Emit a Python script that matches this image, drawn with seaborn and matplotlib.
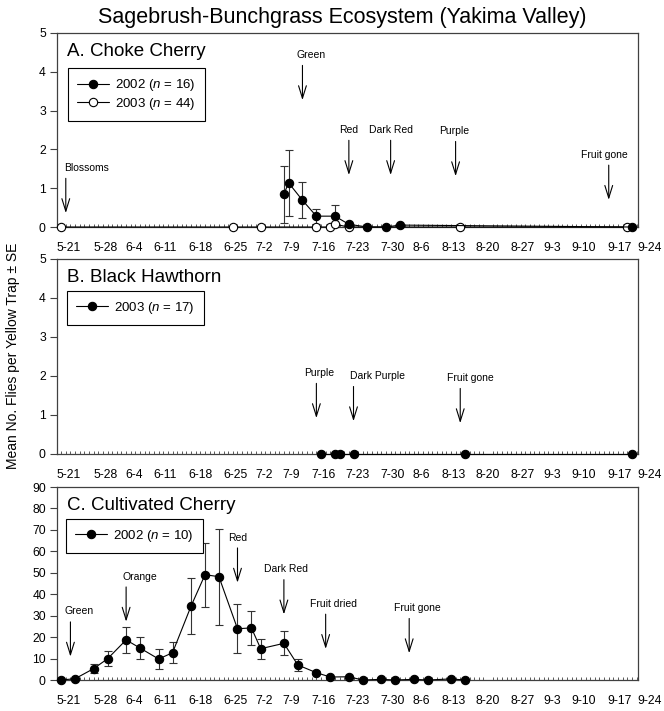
import matplotlib
matplotlib.use('Agg')
import numpy as np
import pandas as pd
import seaborn as sns
from matplotlib import pyplot as plt
from matplotlib.lines import Line2D
from matplotlib.ticker import MultipleLocator

# Dates are month-day strings (season 2002/2003), converted to days after 5-21
SEASON_START = pd.Timestamp('2002-05-21')

# A. Choke cherry
choke_2002_dates = ['7-7', '7-8', '7-11', '7-14', '7-18', '7-21', '7-25', '7-29', '8-1', '9-20']
choke_2002_mean = [0.84, 1.14, 0.69, 0.28, 0.28, 0.07, 0.0, 0.0, 0.05, 0.0]
choke_2002_se = [0.74, 0.85, 0.47, 0.19, 0.28, 0.03, 0.0, 0.0, 0.0, 0.0]
choke_2003_dates = ['5-20', '6-26', '7-2', '7-14', '7-17', '7-18', '7-21', '8-14', '9-19']
choke_2003_mean = [0.0, 0.0, 0.0, 0.0, 0.0, 0.07, 0.0, 0.0, 0.0]

# B. Black hawthorn
hawthorn_2003_dates = ['7-15', '7-18', '7-19', '7-22', '8-15', '9-20']
hawthorn_2003_mean = [0.0, 0.0, 0.0, 0.0, 0.0, 0.0]

# C. Cultivated cherry
cherry_2002_dates = ['5-20', '5-23', '5-27', '5-30', '6-3', '6-6', '6-10', '6-13', '6-17',
                     '6-20', '6-23', '6-27', '6-30', '7-2', '7-7', '7-10', '7-14', '7-17',
                     '7-21', '7-24', '7-28', '7-31', '8-4', '8-7', '8-12', '8-15']
cherry_2002_mean = [0.0, 0.6, 5.3, 9.9, 18.7, 14.9, 9.8, 12.7, 34.5, 49.1, 48.2, 23.9, 24.3,
                    14.6, 17.1, 7.0, 3.4, 1.4, 1.5, 0.0, 0.3, 0.0, 0.3, 0.0, 0.5, 0.0]
cherry_2002_se = [0.0, 0.3, 2.1, 3.4, 6.2, 5.3, 4.6, 4.9, 13.0, 15.0, 22.4, 11.4, 7.8,
                  4.7, 5.6, 2.9, 0.8, 0.5, 0.5, 0.0, 0.2, 0.0, 0.2, 0.0, 0.3, 0.0]

# Phenology stages (label, date, arrow tip value)
choke_stages = ['Blossoms', 'Green', 'Red', 'Dark Red', 'Purple', 'Fruit gone']
choke_stage_dates = ['5-21', '7-11', '7-21', '7-30', '8-13', '9-15']
choke_stage_tips = [0.36, 3.27, 1.34, 1.34, 1.31, 0.70]
hawthorn_stages = ['Purple', 'Dark Purple', 'Fruit gone']
hawthorn_stage_dates = ['7-14', '7-22', '8-14']
hawthorn_stage_tips = [0.92, 0.84, 0.79]
cherry_stages = ['Green', 'Orange', 'Red', 'Dark Red', 'Fruit dried', 'Fruit gone']
cherry_stage_dates = ['5-22', '6-3', '6-27', '7-7', '7-16', '8-3']
cherry_stage_tips = [10.9, 27.2, 45.4, 30.6, 14.5, 12.5]

week_labels = ['5-21', '5-28', '6-4', '6-11', '6-18', '6-25', '7-2', '7-9', '7-16', '7-23',
               '7-30', '8-6', '8-13', '8-20', '8-27', '9-3', '9-10', '9-17', '9-24']
# the original week labels were placed by hand, slightly off the weekly grid
week_label_nudge = [0.7, 1.6, 0.7, 0.4, 1.1, 1.5, 0.7, -0.5, -0.5, -0.2,
                    0.4, -0.5, -0.5, 0.0, 0.5, -0.2, -0.5, 0.4, -0.2]


def to_day(dates):
    return np.array([(pd.Timestamp('2002-' + d) - SEASON_START).days for d in dates])


sns.set_style('ticks')
plt.rcParams['font.family'] = ['Liberation Sans', 'DejaVu Sans']
plt.rcParams['mathtext.fontset'] = 'custom'
plt.rcParams['mathtext.rm'] = 'Liberation Sans'
plt.rcParams['mathtext.it'] = 'Liberation Sans:italic'
plt.rcParams['text.color'] = 'black'
plt.rcParams['xtick.color'] = 'black'
plt.rcParams['ytick.color'] = 'black'

fig = plt.figure(figsize=(6.64, 7.11), dpi=100)
ax_a = fig.add_axes([0.0858, 0.6807, 0.875, 0.2729])
ax_b = fig.add_axes([0.0858, 0.3615, 0.875, 0.2743])
ax_c = fig.add_axes([0.0858, 0.0436, 0.875, 0.2714])

AXIS_COLOR = '#404040'
XLIM = (-1.9, 123.3)
week_pos = 7 * np.arange(len(week_labels)) + np.array(week_label_nudge)


def plot_series(ax, dates, mean, se=None, filled=True):
    df = pd.DataFrame({'day': to_day(dates), 'mean': mean})
    if se is not None:
        se = np.array(se)
        keep = se > 0
        ax.errorbar(df['day'][keep], df['mean'][keep], yerr=se[keep], fmt='none',
                    ecolor='#333333', elinewidth=0.8, capsize=3, capthick=0.8, zorder=2)
    sns.lineplot(data=df, x='day', y='mean', ax=ax, color='black', lw=0.8,
                 marker='o', markersize=6, markeredgecolor='black', markeredgewidth=0.8,
                 markerfacecolor='black' if filled else 'white', clip_on=False, zorder=3)


def style_axes(ax, ymax, ystep, title):
    ax.set_xlim(*XLIM)
    ax.set_ylim(0, ymax)
    ax.set_yticks(np.arange(0, ymax + ystep / 2, ystep))
    inside = week_pos <= XLIM[1]
    ax.set_xticks(week_pos[inside])
    ax.set_xticklabels(np.array(week_labels)[inside])
    ax.xaxis.set_minor_locator(MultipleLocator(1))
    ax.set_xlabel('')
    ax.set_ylabel('')
    for sp in ax.spines.values():
        sp.set_visible(True)
        sp.set_color(AXIS_COLOR)
        sp.set_linewidth(0.9)
    ax.tick_params(axis='y', direction='out', length=5, width=0.8, color=AXIS_COLOR,
                   labelsize=8.7, labelcolor='black', pad=3)
    ax.tick_params(axis='x', which='major', length=0, labelsize=8.7, labelcolor='black',
                   pad=10.5)
    ax.tick_params(axis='x', which='minor', direction='in', length=2.2, width=0.6,
                   color=AXIS_COLOR)
    # last label sits just past the right edge of the axis
    for pos, lab in zip(week_pos[~inside], np.array(week_labels)[~inside]):
        ax.annotate(lab, xy=(pos, 0), xycoords=('data', 'axes fraction'),
                    xytext=(0, -10.5), textcoords='offset points', ha='center', va='top',
                    fontsize=8.7, annotation_clip=False)
    ax.annotate(title, xy=(0, 1), xycoords='axes fraction', xytext=(7, -13),
                textcoords='offset points', ha='left', va='center', fontsize=13.5)


def draw_stages(ax, stages, dates, tips, text_dx):
    for label, day, tip, dx in zip(stages, to_day(dates), tips, text_dx):
        ax.annotate('', xy=(day, tip), xytext=(0, 25), textcoords='offset points',
                    arrowprops=dict(arrowstyle='->,head_length=0.9,head_width=0.28',
                                    color='black', lw=0.8, shrinkA=0, shrinkB=0,
                                    mutation_scale=10))
        ax.annotate(label, xy=(day, tip), xytext=(dx, 32.5), textcoords='offset points',
                    ha='center', va='center', fontsize=7.5)


def add_legend(ax, labels, fills, anchor):
    handles = [Line2D([], [], color='black', lw=0.8, marker='o', markersize=6,
                      markeredgecolor='black', markeredgewidth=0.8, markerfacecolor=f)
               for f in fills]
    leg = ax.legend(handles, labels, loc='upper left', bbox_to_anchor=anchor,
                    borderaxespad=0, frameon=True, fancybox=False, framealpha=1,
                    edgecolor='black', fontsize=9.5, handlelength=2.4, handletextpad=0.5,
                    borderpad=0.7, labelspacing=0.2)
    leg.get_frame().set_linewidth(0.8)


# A. Choke Cherry
plot_series(ax_a, choke_2003_dates, choke_2003_mean, filled=False)
plot_series(ax_a, choke_2002_dates, choke_2002_mean, choke_2002_se, filled=True)
style_axes(ax_a, 5, 1, 'A. Choke Cherry')
draw_stages(ax_a, choke_stages, choke_stage_dates, choke_stage_tips,
            [15, 6.5, 0, 0, -1, -3])
add_legend(ax_a, ['2002 ($n$ = 16)', '2003 ($n$ = 44)'], ['black', 'white'],
           (0.0184, 0.8196))

# B. Black Hawthorn
plot_series(ax_b, hawthorn_2003_dates, hawthorn_2003_mean, filled=True)
style_axes(ax_b, 5, 1, 'B. Black Hawthorn')
draw_stages(ax_b, hawthorn_stages, hawthorn_stage_dates, hawthorn_stage_tips,
            [2, 17.5, 7])
add_legend(ax_b, ['2003 ($n$ = 17)'], ['black'], (0.0167, 0.837))

# C. Cultivated Cherry
plot_series(ax_c, cherry_2002_dates, cherry_2002_mean, cherry_2002_se, filled=True)
style_axes(ax_c, 90, 10, 'C. Cultivated Cherry')
draw_stages(ax_c, cherry_stages, cherry_stage_dates, cherry_stage_tips,
            [6.5, 10, 0.5, 1.5, 5.5, 6])
add_legend(ax_c, ['2002 ($n$ = 10)'], ['black'], (0.0155, 0.836))

fig.text(342 / 664, 1 - 17 / 711, 'Sagebrush-Bunchgrass Ecosystem (Yakima Valley)',
         ha='center', va='center', fontsize=15.5)
fig.text(13 / 664, 0.5, 'Mean No. Flies per Yellow Trap \u00b1 SE', rotation=90,
         ha='center', va='center', fontsize=10)

fig.savefig('out.png', dpi=100)
plt.close()
